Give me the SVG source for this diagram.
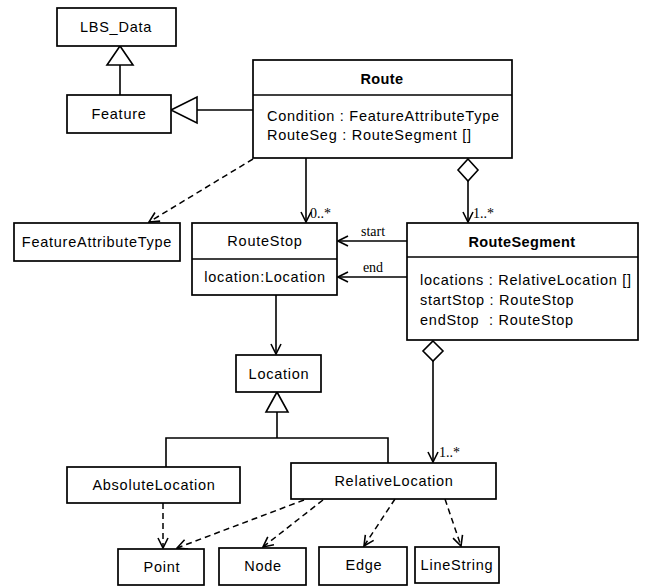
<svg xmlns="http://www.w3.org/2000/svg" width="648" height="586" viewBox="0 0 648 586">
  <style>
    .box { fill: #fff; stroke: #000; stroke-width: 1.7; }
    .div { stroke: #000; stroke-width: 1.5; }
    .t { font-family: "Liberation Sans", Arial, sans-serif; font-size: 14.5px; letter-spacing: 0.75px; fill: #000; }
    .c { text-anchor: middle; }
    .b { font-weight: bold; letter-spacing: 0.4px; }
    .lbl { font-family: "Liberation Serif", "Times New Roman", serif; font-size: 14px; fill: #000; }
    .ln { fill: none; stroke: #000; stroke-width: 1.6; }
    .dash { fill: none; stroke: #000; stroke-width: 1.5; stroke-dasharray: 6 4; }
    .tri { fill: #fff; stroke: #000; stroke-width: 1.6; }
  </style>
  <defs>
    <marker id="open" viewBox="0 0 12 12" refX="11" refY="6" markerWidth="12" markerHeight="12" markerUnits="userSpaceOnUse" orient="auto">
      <path d="M1,1 L11,6 L1,11" fill="none" stroke="#000" stroke-width="1.6"/>
    </marker>
  </defs>

  <rect width="648" height="586" fill="#fff"/>

  <!-- connectors -->
  <g id="connectors">
    <!-- generalization Feature -> LBS_Data -->
    <line class="ln" x1="120" y1="95" x2="120" y2="65"/>
    <polygon class="tri" points="120,46 107,65 133,65"/>
    <!-- generalization Route -> Feature -->
    <line class="ln" x1="253" y1="110" x2="197" y2="110"/>
    <polygon class="tri" points="171,110 197,97 197,123"/>
    <!-- dependency Route -> FeatureAttributeType -->
    <line class="dash" x1="253" y1="159" x2="149" y2="222" marker-end="url(#open)"/>
    <!-- association Route -> RouteStop -->
    <line class="ln" x1="306" y1="158" x2="306" y2="222" marker-end="url(#open)"/>
    <text class="lbl" x="310" y="218">0..*</text>
    <!-- aggregation Route -> RouteSegment -->
    <polygon class="tri" points="468,159 478,170 468,181 458,170"/>
    <line class="ln" x1="468" y1="181" x2="468" y2="222" marker-end="url(#open)"/>
    <text class="lbl" x="473" y="218">1..*</text>
    <!-- start / end associations -->
    <line class="ln" x1="407" y1="241" x2="338" y2="241" marker-end="url(#open)"/>
    <text class="lbl c" x="373" y="236">start</text>
    <line class="ln" x1="407" y1="277" x2="338" y2="277" marker-end="url(#open)"/>
    <text class="lbl c" x="373" y="272">end</text>
    <!-- RouteStop -> Location -->
    <line class="ln" x1="276" y1="295" x2="276" y2="354" marker-end="url(#open)"/>
    <!-- generalization Absolute/Relative -> Location -->
    <polygon class="tri" points="277,392 266,412 288,412"/>
    <polyline class="ln" points="277,412 277,438"/>
    <polyline class="ln" points="166,467 166,438 388,438 388,463"/>
    <!-- aggregation RouteSegment -> RelativeLocation -->
    <polygon class="tri" points="433,341 443,351 433,361 423,351"/>
    <line class="ln" x1="433" y1="361" x2="433" y2="462" marker-end="url(#open)"/>
    <text class="lbl" x="439" y="457">1..*</text>
    <!-- dependencies to geometry types -->
    <line class="dash" x1="163" y1="503" x2="163" y2="548" marker-end="url(#open)"/>
    <line class="dash" x1="304" y1="500" x2="177" y2="548" marker-end="url(#open)"/>
    <line class="dash" x1="323" y1="500" x2="263" y2="547" marker-end="url(#open)"/>
    <line class="dash" x1="395" y1="499" x2="364" y2="546" marker-end="url(#open)"/>
    <line class="dash" x1="445" y1="499" x2="461" y2="546" marker-end="url(#open)"/>
  </g>

  <!-- nodes -->
  <g id="LBS_Data">
    <rect class="box" x="57" y="8" width="119" height="38"/>
    <text class="t c" x="116" y="32">LBS_Data</text>
  </g>
  <g id="Feature">
    <rect class="box" x="67" y="95" width="104" height="38"/>
    <text class="t c" x="119" y="119">Feature</text>
  </g>
  <g id="Route">
    <rect class="box" x="253" y="60" width="259" height="98"/>
    <line class="div" x1="253" y1="95" x2="512" y2="95"/>
    <text class="t c b" x="382" y="84">Route</text>
    <text class="t" x="267" y="121">Condition : FeatureAttributeType</text>
    <text class="t" x="267" y="140">RouteSeg : RouteSegment []</text>
  </g>
  <g id="FeatureAttributeType">
    <rect class="box" x="14" y="223" width="166" height="38"/>
    <text class="t c" x="97" y="247">FeatureAttributeType</text>
  </g>
  <g id="RouteStop">
    <rect class="box" x="192" y="223" width="145" height="72"/>
    <line class="div" x1="192" y1="259" x2="337" y2="259"/>
    <text class="t c" x="265" y="246">RouteStop</text>
    <text class="t c" x="265" y="282">location:Location</text>
  </g>
  <g id="RouteSegment">
    <rect class="box" x="407" y="223" width="231" height="117"/>
    <line class="div" x1="407" y1="257" x2="638" y2="257"/>
    <text class="t c b" x="522" y="247">RouteSegment</text>
    <text class="t" x="420" y="285">locations : RelativeLocation []</text>
    <text class="t" x="420" y="305">startStop : RouteStop</text>
    <text class="t" x="420" y="325">endStop<tspan x="489">: RouteStop</tspan></text>
  </g>
  <g id="Location">
    <rect class="box" x="236" y="355" width="85" height="37"/>
    <text class="t c" x="279" y="379">Location</text>
  </g>
  <g id="AbsoluteLocation">
    <rect class="box" x="67" y="467" width="173" height="36"/>
    <text class="t c" x="154" y="490">AbsoluteLocation</text>
  </g>
  <g id="RelativeLocation">
    <rect class="box" x="291" y="463" width="205" height="36"/>
    <text class="t c" x="394" y="486">RelativeLocation</text>
  </g>
  <g id="Point">
    <rect class="box" x="118" y="549" width="86" height="36"/>
    <text class="t c" x="162" y="572">Point</text>
  </g>
  <g id="Node">
    <rect class="box" x="219" y="548" width="87" height="37"/>
    <text class="t c" x="263" y="571">Node</text>
  </g>
  <g id="Edge">
    <rect class="box" x="319" y="547" width="88" height="38"/>
    <text class="t c" x="364" y="570">Edge</text>
  </g>
  <g id="LineString">
    <rect class="box" x="415" y="547" width="84" height="36"/>
    <text class="t c" x="457" y="570">LineString</text>
  </g>
</svg>
